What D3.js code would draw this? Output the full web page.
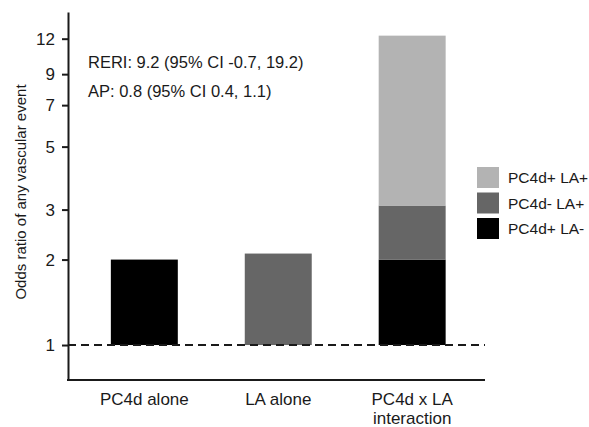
<!DOCTYPE html>
<html>
<head>
<meta charset="utf-8">
<script src="https://cdn.jsdelivr.net/npm/d3@7"></script>
<style>
  body { margin: 0; background: #fff; }
  text { font-family: "Liberation Sans", Arial, sans-serif; fill: #1a1a1a; }
</style>
</head>
<body>
<div id="chart"></div>
<script>
// categories on the x axis (second line of a label after "|")
const categories = ["PC4d alone", "LA alone", "PC4d x LA|interaction"];

// stacked series, bottom to top; values are the odds ratio at the top of each segment (1 = no segment)
const seriesNames = ["PC4d+ LA-", "PC4d- LA+", "PC4d+ LA+"];
const seriesColors = ["#000000", "#666666", "#b3b3b3"];
const topPC4dOnly = [2.0, 1, 2.0];
const topLAOnly = [1, 2.1, 3.1];
const topBoth = [1, 1, 12.3];

const yTicks = [1, 2, 3, 5, 7, 9, 12];
const notes = ["RERI: 9.2 (95% CI -0.7, 19.2)", "AP: 0.8 (95% CI 0.4, 1.1)"];
const yLabel = "Odds ratio of any vascular event";

const W = 589, H = 427;
const mLeft = 68, mBottom = 380, mTop = 12, axisRight = 485;

const svg = d3.select("#chart").append("svg")
    .attr("width", W).attr("height", H);

const x = d3.scaleBand().domain(categories)
    .range([mLeft, 488.5]).paddingInner(0.5).paddingOuter(0.32);
const y = d3.scaleLog().domain([0.753, 14.9]).range([mBottom, mTop]);

// build segments
const tops = [topPC4dOnly, topLAOnly, topBoth];
const segs = [];
categories.forEach((c, ci) => {
    let prev = 1;
    tops.forEach((arr, si) => {
        const t = arr[ci];
        if (t > prev) {
            segs.push({ cat: c, lo: prev, hi: t, color: seriesColors[si] });
            prev = t;
        }
    });
});

svg.append("g").selectAll("rect").data(segs).join("rect")
    .attr("x", d => x(d.cat))
    .attr("width", x.bandwidth())
    .attr("y", d => y(d.hi))
    .attr("height", d => y(d.lo) - y(d.hi))
    .attr("fill", d => d.color);

// reference line at OR = 1
svg.append("line")
    .attr("x1", mLeft).attr("x2", axisRight)
    .attr("y1", y(1)).attr("y2", y(1))
    .attr("stroke", "#1a1a1a").attr("stroke-width", 2)
    .attr("stroke-dasharray", "8,5");

// y axis
const yAxis = svg.append("g")
    .attr("transform", `translate(${mLeft},0)`)
    .call(d3.axisLeft(y).tickValues(yTicks).tickFormat(d3.format("d")).tickSize(6).tickSizeOuter(0).tickPadding(7));
yAxis.select(".domain").attr("stroke", "#1a1a1a").attr("stroke-width", 2);
yAxis.selectAll(".tick line").attr("stroke", "#1a1a1a").attr("stroke-width", 2);
yAxis.selectAll(".tick text").style("font-size", "17px").attr("fill", "#1a1a1a")
    .attr("font-family", "Liberation Sans, Arial, sans-serif");

// x axis line
svg.append("line")
    .attr("x1", mLeft - 1).attr("x2", axisRight)
    .attr("y1", mBottom).attr("y2", mBottom)
    .attr("stroke", "#1a1a1a").attr("stroke-width", 2);

// x labels
svg.append("g").selectAll("text").data(categories).join("text")
    .attr("text-anchor", "middle")
    .style("font-size", "17px")
    .each(function(d) {
        const lines = d.split("|");
        d3.select(this).selectAll("tspan").data(lines).join("tspan")
            .attr("x", x(d) + x.bandwidth() / 2)
            .attr("y", (l, i) => 405 + i * 19)
            .text(l => l);
    });

// y label
svg.append("text")
    .attr("transform", "translate(26,192) rotate(-90)")
    .attr("text-anchor", "middle")
    .style("font-size", "15px")
    .text(yLabel);

// notes
svg.append("g").selectAll("text").data(notes).join("text")
    .attr("x", 88)
    .attr("y", (d, i) => 68 + i * 29)
    .style("font-size", "16.5px")
    .text(d => d);

// legend (top to bottom: last series first)
const legendItems = seriesNames.map((n, i) => ({ name: n, color: seriesColors[i] })).reverse();
const lg = svg.append("g").attr("transform", "translate(477,167)");
const li = lg.selectAll("g").data(legendItems).join("g")
    .attr("transform", (d, i) => `translate(0,${i * 25.5})`);
li.append("rect").attr("width", 22).attr("height", 21).attr("fill", d => d.color);
li.append("text").attr("x", 31).attr("y", 16)
    .style("font-size", "15.5px")
    .text(d => d.name);
</script>
</body>
</html>
